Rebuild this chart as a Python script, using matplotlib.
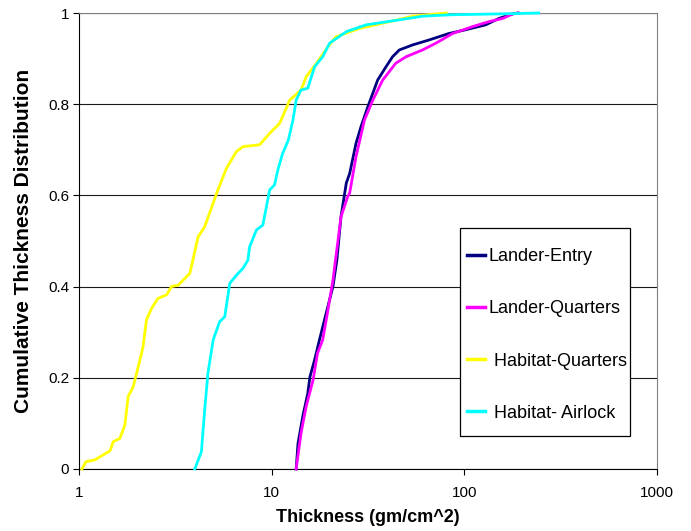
import numpy as np
import matplotlib
matplotlib.use("Agg")
import matplotlib.pyplot as plt
from matplotlib.patches import Rectangle

plt.rcParams['font.family'] = ['Liberation Sans', 'DejaVu Sans']

# cumulative thickness distributions (thickness in gm/cm^2, fraction)
lander_entry_x = [13.4, 13.7, 14.5, 15.4, 15.8, 16.7, 17.7, 18.8, 20.8, 21.8, 22.9,
                  24.4, 25.4, 27.4, 29.1, 31.6, 35.5, 39.2, 42.4, 46.0, 53.9, 65.8,
                  83.0, 101, 129, 151, 178, 190]
lander_entry_y = [0.0, 0.056, 0.115, 0.166, 0.202, 0.239, 0.283, 0.327, 0.40, 0.458, 0.553,
                  0.627, 0.648, 0.714, 0.751, 0.795, 0.853, 0.882, 0.904, 0.919, 0.93, 0.941,
                  0.955, 0.963, 0.974, 0.988, 0.998, 1.0]

lander_quarters_x = [13.4, 14.2, 15.1, 16.4, 17.3, 18.4, 19.6, 20.8, 22.9, 24.8, 25.4,
                     27.4, 30.3, 33.5, 37.7, 44.1, 49.8, 60.7, 71.3, 86.9, 110, 134,
                     158, 178, 190]
lander_quarters_y = [0.0, 0.078, 0.137, 0.195, 0.254, 0.283, 0.349, 0.414, 0.553, 0.597, 0.605,
                     0.685, 0.765, 0.809, 0.853, 0.89, 0.904, 0.919, 0.934, 0.955, 0.97, 0.981,
                     0.988, 0.998, 1.0]

habitat_quarters_x = [1.036, 1.087, 1.21, 1.45, 1.506, 1.63, 1.73, 1.80, 1.91, 2.03, 2.15,
                      2.24, 2.38, 2.57, 2.85, 3.02, 3.27, 3.76, 3.90, 4.15, 4.49, 4.97,
                      5.26, 5.82, 6.56, 7.10, 8.66, 9.76, 11.0, 11.7, 12.4, 14.2, 15.1,
                      17.1, 19.6, 21.6, 28.5, 40.9, 53.9, 80.5]
habitat_quarters_y = [0.0, 0.016, 0.02, 0.04, 0.06, 0.067, 0.096, 0.159, 0.18, 0.224, 0.268,
                      0.327, 0.352, 0.374, 0.382, 0.40, 0.403, 0.429, 0.458, 0.509, 0.531, 0.583,
                      0.612, 0.659, 0.696, 0.707, 0.711, 0.736, 0.758, 0.784, 0.809, 0.831, 0.86,
                      0.89, 0.926, 0.948, 0.966, 0.981, 0.993, 1.0]

habitat_airlock_x = [3.99, 4.32, 4.49, 4.67, 4.97, 5.37, 5.71, 6.06, 6.56, 7.10, 7.53,
                     7.68, 8.33, 9.0, 9.39, 9.76, 10.35, 10.77, 11.4, 12.2, 12.9, 13.4,
                     14.2, 15.4, 16.7, 18.4, 20.0, 24.4, 30.9, 46.0, 60.7, 83.0, 151, 243]
habitat_airlock_y = [0.0, 0.038, 0.129, 0.21, 0.283, 0.323, 0.334, 0.407, 0.425, 0.44, 0.458,
                     0.487, 0.524, 0.535, 0.575, 0.612, 0.623, 0.656, 0.692, 0.721, 0.765, 0.809,
                     0.831, 0.835, 0.882, 0.904, 0.934, 0.959, 0.974, 0.985, 0.993, 0.996, 0.998, 1.0]

series = [
    (lander_entry_x, lander_entry_y, '#000080', 'Lander-Entry'),
    (lander_quarters_x, lander_quarters_y, '#FF00FF', 'Lander-Quarters'),
    (habitat_quarters_x, habitat_quarters_y, '#FFFF00', ' Habitat-Quarters'),
    (habitat_airlock_x, habitat_airlock_y, '#00FFFF', ' Habitat- Airlock'),
]

fig = plt.figure(figsize=(6.91, 5.31), dpi=100)
ax = fig.add_axes([0.1143, 0.1168, 0.8365, 0.8587])

handles = []
for xs, ys, c, lab in series:
    ln, = ax.plot(xs, ys, color=c, lw=2.0, label=lab, clip_on=False, zorder=3)
    handles.append(ln)

ax.set_xscale('log')
ax.set_xlim(1, 1000)
ax.set_ylim(0, 1)
ax.set_xticks([1, 10, 100, 1000])
ax.set_xticklabels(['1', '10', '100', '1000'])
ax.xaxis.set_minor_locator(matplotlib.ticker.NullLocator())
ax.set_yticks([0, 0.2, 0.4, 0.6, 0.8, 1.0])
ax.set_yticklabels(['0', '0.2', '0.4', '0.6', '0.8', '1'])
ax.tick_params(axis='both', labelsize=11, direction='out', length=4, width=0.8)
ax.tick_params(axis='x', pad=8)
ax.tick_params(axis='y', pad=3)

ax.yaxis.grid(True, color='#1a1a1a', lw=0.8)
ax.set_axisbelow(True)
ax.spines['top'].set_color('#808080')
ax.spines['right'].set_color('#808080')

ax.set_xlabel('Thickness (gm/cm^2)', fontsize=13, fontweight='bold')
ax.xaxis.set_label_coords(0.5, -0.088)
ax.set_ylabel('Cumulative Thickness Distribution', fontsize=15, fontweight='bold')
ax.yaxis.set_label_coords(-0.0796, 0.5)

# legend box with white fill over the grid
box = Rectangle((0.659, 0.072), 0.294, 0.457, transform=ax.transAxes,
                facecolor='white', edgecolor='black', lw=0.9, zorder=4)
ax.add_patch(box)
leg = ax.legend(handles=handles, loc='center left', bbox_to_anchor=(0.671, 0.294),
                frameon=False, fontsize=13, handlelength=1.0, handletextpad=0.2,
                labelspacing=1.95, borderpad=0, borderaxespad=0)
leg.set_zorder(5)
for h in leg.get_lines():
    h.set_linewidth(2.5)

fig.savefig('out.png', dpi=100)
